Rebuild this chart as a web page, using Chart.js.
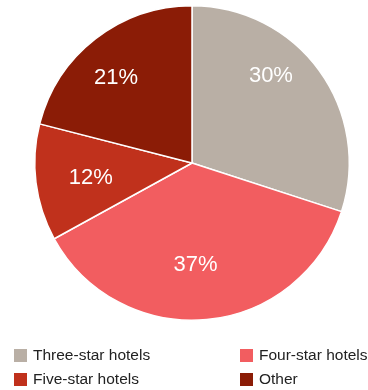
<!DOCTYPE html>
<html>
<head>
<meta charset="utf-8">
<script src="https://cdn.jsdelivr.net/npm/chart.js@4"></script>
<style>
  body { margin: 0; background: #fff; }
  #wrap { position: relative; width: 368px; height: 390px; }
  #legend { position: absolute; left: 0; top: 346px; width: 368px; font-family: "Liberation Sans", Arial, sans-serif; font-size: 15.5px; color: #222; }
  .item { position: absolute; display: flex; align-items: center; white-space: nowrap; }
  .box { width: 13px; height: 13px; margin-right: 6px; }
</style>
</head>
<body>
<div id="wrap">
  <canvas id="hotelChart"></canvas>
  <div id="legend"></div>
</div>
<script>
// Share of hotel nights by category
const categories = ['Three-star hotels', 'Four-star hotels', 'Five-star hotels', 'Other'];
const shares = [30, 37, 12, 21];
const colors = ['#b9afa5', '#f25d60', '#c0311c', '#8b1c06'];

// Where each percentage sits inside its slice
const labelRadius = [0.75, 0.64, 0.65, 0.73];
const labelTurn = [-12, 3.4, -0.8, -3.7];

const sliceLabels = {
  id: 'sliceLabels',
  afterDatasetsDraw(chart) {
    const ctx = chart.ctx;
    const arcs = chart.getDatasetMeta(0).data;
    ctx.save();
    ctx.fillStyle = '#fff';
    ctx.font = '22px "Liberation Sans", Arial, sans-serif';
    ctx.textAlign = 'center';
    ctx.textBaseline = 'middle';
    arcs.forEach((arc, i) => {
      const p = arc.getProps(['x', 'y', 'startAngle', 'endAngle', 'outerRadius'], true);
      const mid = (p.startAngle + p.endAngle) / 2 + labelTurn[i] * Math.PI / 180;
      const r = p.outerRadius * labelRadius[i];
      ctx.fillText(shares[i] + '%', p.x + Math.cos(mid) * r, p.y + Math.sin(mid) * r + 1);
    });
    ctx.restore();
  }
};

new Chart(document.getElementById('hotelChart'), {
  type: 'pie',
  data: {
    labels: categories,
    datasets: [{
      data: shares,
      backgroundColor: colors,
      borderColor: '#fff',
      borderWidth: 1.5
    }]
  },
  options: {
    responsive: true,
    maintainAspectRatio: false,
    animation: false,
    layout: { padding: { top: 5, left: 16, right: 0, bottom: 69 } },
    plugins: {
      legend: { display: false },
      tooltip: { enabled: false }
    }
  },
  plugins: [sliceLabels]
});

// two-column legend under the pie
const legend = document.getElementById('legend');
categories.forEach((name, i) => {
  const item = document.createElement('div');
  item.className = 'item';
  item.style.left = (i % 2 === 0 ? 14 : 240) + 'px';
  item.style.top = (Math.floor(i / 2) * 24) + 'px';
  item.innerHTML = '<span class="box" style="background:' + colors[i] + '"></span><span>' + name + '</span>';
  legend.appendChild(item);
});
</script>
</body>
</html>
